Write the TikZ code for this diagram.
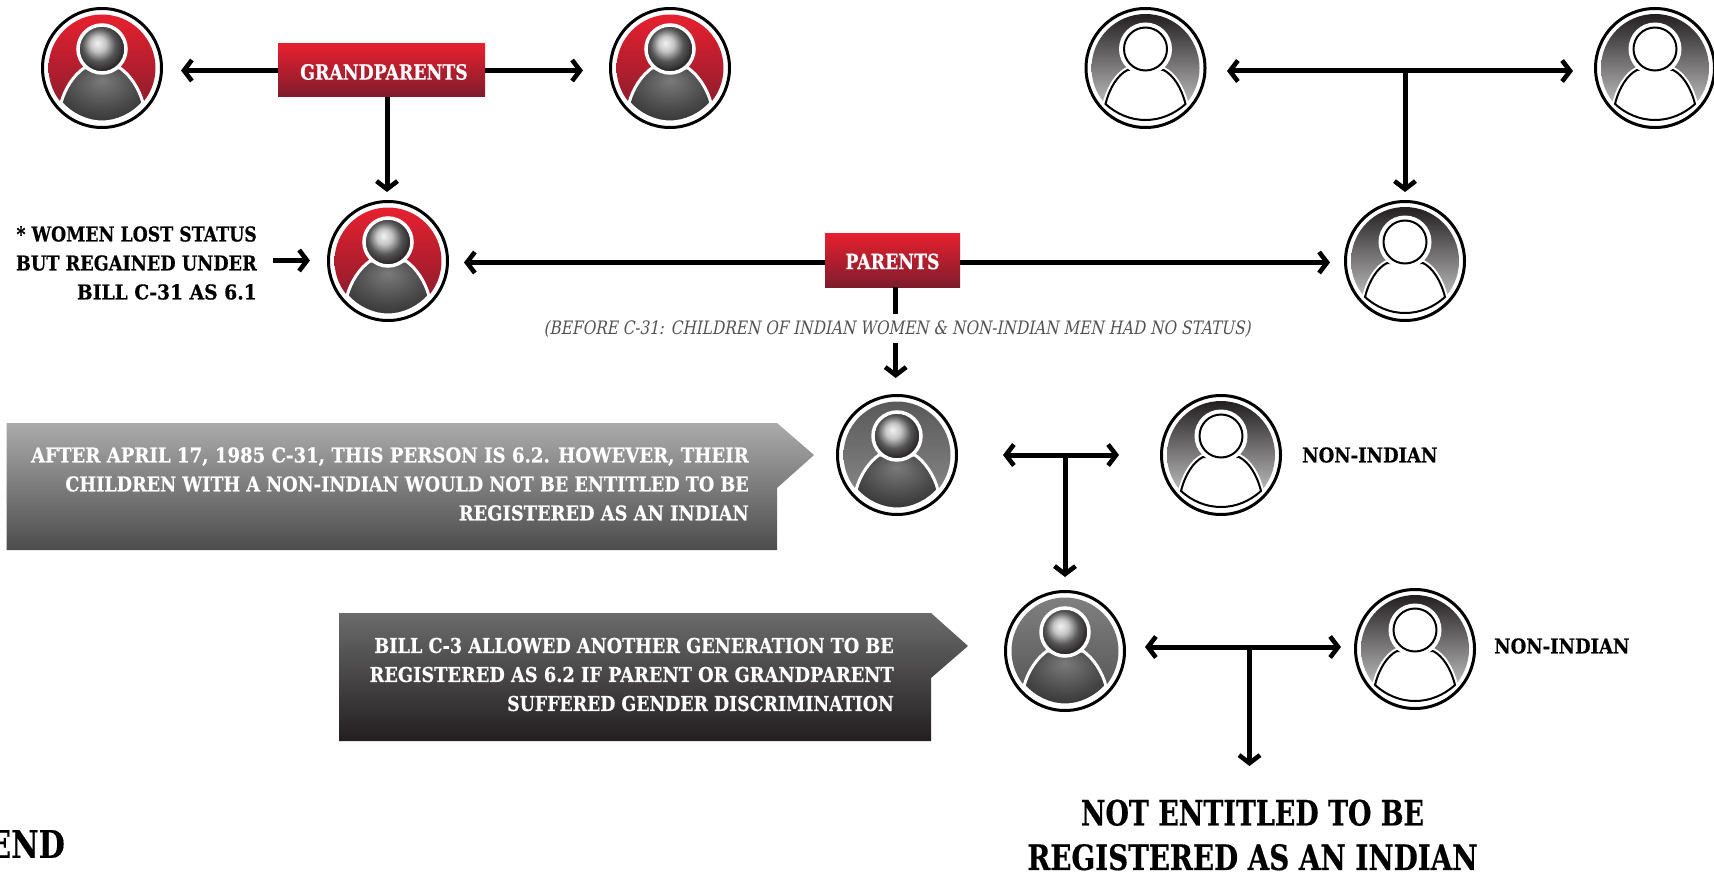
\documentclass[tikz,border=0pt]{standalone}
\usepackage{fontspec}
\usepackage{graphicx}
\usetikzlibrary{arrows.meta,shadings}
\newcommand{\mkslab}[2]{\newfontfamily#1[FakeStretch=#2,BoldFeatures={FakeBold=0.4}]{DejaVu Serif}}
\mkslab{\slabbox}{0.825}
\mkslab{\slabside}{0.846}
\mkslab{\slabnon}{0.877}
\mkslab{\slabca}{0.884}
\mkslab{\slabcb}{0.861}
\mkslab{\slabbig}{0.792}
\newfontfamily\slabit[FakeStretch=0.827,FakeSlant=0.2]{DejaVu Serif}
\newcommand{\sx}[2]{\scalebox{#1}[1]{#2}}
\definecolor{rtop}{HTML}{E8202F}
\definecolor{rbot}{HTML}{7D1C2C}
\definecolor{ink}{HTML}{231F20}
\pgfdeclareradialshading{headshade}{\pgfpoint{-5bp}{6.5bp}}{color(0bp)=(white!90!gray);color(8bp)=(white!55!gray);color(17bp)=(black!66);color(27bp)=(ink);color(50bp)=(ink)}
\pgfdeclareradialshading{bodyshade}{\pgfpoint{0bp}{14bp}}{color(0bp)=(black!52);color(22bp)=(black!72);color(42bp)=(ink);color(50bp)=(ink)}
\tikzset{
  x=1pt,y=-1pt,
  ring/.style={circle,draw=black,line width=3pt,fill=white,minimum size=119pt,inner sep=0pt},
  tipbarb/.tip={Straight Barb[length=8pt,width=21pt,line width=4.6pt]},
  arr/.style={draw=black,line width=5pt,-tipbarb},
  arrb/.style={draw=black,line width=5pt,tipbarb-tipbarb},
  plain/.style={draw=black,line width=5pt},
  redbox/.style={rectangle,top color=rtop,bottom color=rbot,inner sep=0pt,text=white,font=\slabbox\bfseries\fontsize{21}{26}\selectfont},
  lab/.style={text=black,inner sep=0pt,font=\bfseries\fontsize{20.5}{29}\selectfont},
  calltext/.style={text=white,inner sep=0pt,align=right,anchor=east,font=\bfseries\fontsize{20.5}{29}\selectfont},
  big/.style={text=black,inner sep=0pt,align=center,font=\slabbig\bfseries\fontsize{35}{44.5}\selectfont},
}
\newcommand{\bodypath}{(-41,35) .. controls (-37,20) and (-28,7) .. (-18,0) -- (18,0) .. controls (28,7) and (37,20) .. (41,35) .. controls (30,47) and (15,54) .. (0,54) .. controls (-15,54) and (-30,47) .. (-41,35) -- cycle}
\newcommand{\bodypathb}{(-40,36) .. controls (-36,20) and (-28,7) .. (-18,2) -- (18,2) .. controls (28,7) and (36,20) .. (40,36) .. controls (29,46) and (15,52) .. (0,52) .. controls (-15,52) and (-29,46) .. (-40,36) -- cycle}
% solid figure: name, x, y, top colour, bottom colour
\newcommand{\solidperson}[5]{%
  \node[ring] (#1) at (#2,#3) {};
  \begin{scope}[shift={(#2,#3)}]
    \shade[top color=#4,bottom color=#5] (0,0) circle[radius=53.5];
    \path[draw=white,line width=3pt,shading=bodyshade] \bodypath;
    \path[draw=white,line width=3.5pt,shading=headshade] (0,-19) circle[radius=24];
  \end{scope}}
% outlined figure: name, x, y
\newcommand{\linedperson}[3]{%
  \node[ring] (#1) at (#2,#3) {};
  \begin{scope}[shift={(#2,#3)}]
    \shade[top color=ink,bottom color=black!15] (0,0) circle[radius=54];
    \draw[white,line width=6pt] \bodypathb;
    \draw[black,fill=white,line width=2pt] \bodypathb;
    \fill[white] (0,-19) circle[radius=26.5];
    \draw[black,fill=white,line width=2pt] (0,-19) circle[radius=21.5];
  \end{scope}}
\begin{document}
\begin{tikzpicture}
\useasboundingbox (0,0) rectangle (1714,872);
% figures
\solidperson{gpa}{102}{68}{rtop}{rbot}
\solidperson{gpb}{670}{68}{rtop}{rbot}
\linedperson{gpc}{1145.5}{68}
\linedperson{gpd}{1655}{68}
\solidperson{pa}{388}{261}{rtop}{rbot}
\linedperson{pb}{1405}{261}
\solidperson{self}{897}{455}{black!65}{black!45}
\linedperson{spouse}{1221}{455}
\solidperson{child}{1065}{651}{black!50}{black!68}
\linedperson{cspouse}{1415}{649}
% boxes
\node[redbox,minimum width=207pt,minimum height=53pt] (gp) at (381.5,70.5) {\rule{0pt}{18.5pt}\hspace{5pt}GRANDPARENTS};
\node[redbox,minimum width=135pt,minimum height=54pt] (par) at (892.5,260) {\rule{0pt}{18.5pt}PARENTS};
% free ends
\coordinate (gpL) at (181,70.5);
\coordinate (gpR) at (583,70.5);
\coordinate (gpD) at (387,192);
\coordinate (parL) at (464,262.5);
\coordinate (parR) at (1330,262.5);
\coordinate (parJ) at (825,262.5);
\coordinate (parK) at (960,262.5);
\coordinate (stopA) at (895.7,314);
\coordinate (stopB) at (895.7,343);
\coordinate (stopC) at (895.7,378);
\coordinate (sideA) at (273,260.5);
\coordinate (sideB) at (310,260.5);
\coordinate (topL) at (1227,71);
\coordinate (topR) at (1573,71);
\coordinate (topJ) at (1405,71);
\coordinate (topD) at (1405,192);
\coordinate (midL) at (1003,455);
\coordinate (midR) at (1119,455);
\coordinate (midJ) at (1065,455);
\coordinate (midD) at (1065,577);
\coordinate (lowL) at (1145,647);
\coordinate (lowR) at (1341,647);
\coordinate (lowJ) at (1249.5,647);
\coordinate (lowD) at (1249.5,766);
% connectors
\draw[arr] (gp.west) -- (gpL);
\draw[arr] (gp.east) -- (gpR);
\draw[arr] (gp.south -| gpD) -- (gpD);
\draw[arr] (parJ) -- (parL);
\draw[arr] (parK) -- (parR);
\draw[plain] (par.south -| stopA) -- (stopA);
\draw[arr] (stopB) -- (stopC);
\draw[arr] (sideA) -- (sideB);
\draw[arrb] (topL) -- (topR);
\draw[arr] (topJ) -- (topD);
\draw[arrb] (midL) -- (midR);
\draw[arr] (midJ) -- (midD);
\draw[arrb] (lowL) -- (lowR);
\draw[arr] (lowJ) -- (lowD);
% texts
\node[lab,align=right,anchor=east,font=\slabside\bfseries\fontsize{20.5}{29}\selectfont] (side) at (257,263) {* WOMEN LOST STATUS\\\sx{1.018}{BUT REGAINED UNDER}\\\sx{1.08}{BILL C-31 AS 6.1}};
\node[text=black!68,inner sep=0pt,font=\slabit\fontsize{18.5}{22}\selectfont] (note) at (897,329) {(BEFORE C-31: CHILDREN OF INDIAN WOMEN \& NON-INDIAN MEN HAD NO STATUS)};
\node[lab,anchor=west,font=\slabnon\bfseries\fontsize{20.5}{29}\selectfont] (ni) at (1302,455) {NON-INDIAN};
\node[lab,anchor=west,font=\slabnon\bfseries\fontsize{20.5}{29}\selectfont] (cni) at (1494,646) {NON-INDIAN};
% callouts
\shade[top color=black!33,bottom color=black!70] (6.5,423) -- (777,423) -- (814,455) -- (777,488) -- (777,550) -- (6.5,550) -- cycle;
\node[calltext,font=\slabca\bfseries\fontsize{20.5}{29}\selectfont] (callA) at (749,484) {AFTER APRIL 17, 1985 C-31, THIS PERSON IS 6.2. HOWEVER, THEIR\\\sx{0.973}{CHILDREN WITH A NON-INDIAN WOULD NOT BE ENTITLED TO BE}\\\sx{0.985}{REGISTERED AS AN INDIAN}};
\shade[top color=black!58,middle color=black!80,bottom color=ink] (339,613) -- (931,613) -- (968,646) -- (931,678) -- (931,741) -- (339,741) -- cycle;
\node[calltext,font=\slabcb\bfseries\fontsize{20.5}{29}\selectfont] (callB) at (894,674.5) {BILL C-3 ALLOWED ANOTHER GENERATION TO BE\\\sx{1.008}{REGISTERED AS 6.2 IF PARENT OR GRANDPARENT}\\\sx{0.983}{SUFFERED GENDER DISCRIMINATION}};
\node[big] (verdict) at (1252.5,835) {\sx{0.97}{NOT ENTITLED TO BE}\\REGISTERED AS AN INDIAN};
\node[text=black,inner sep=0pt,anchor=east,font=\slabbig\bfseries\fontsize{38}{44}\selectfont] (legend) at (65,844) {END};
\end{tikzpicture}
\end{document}
